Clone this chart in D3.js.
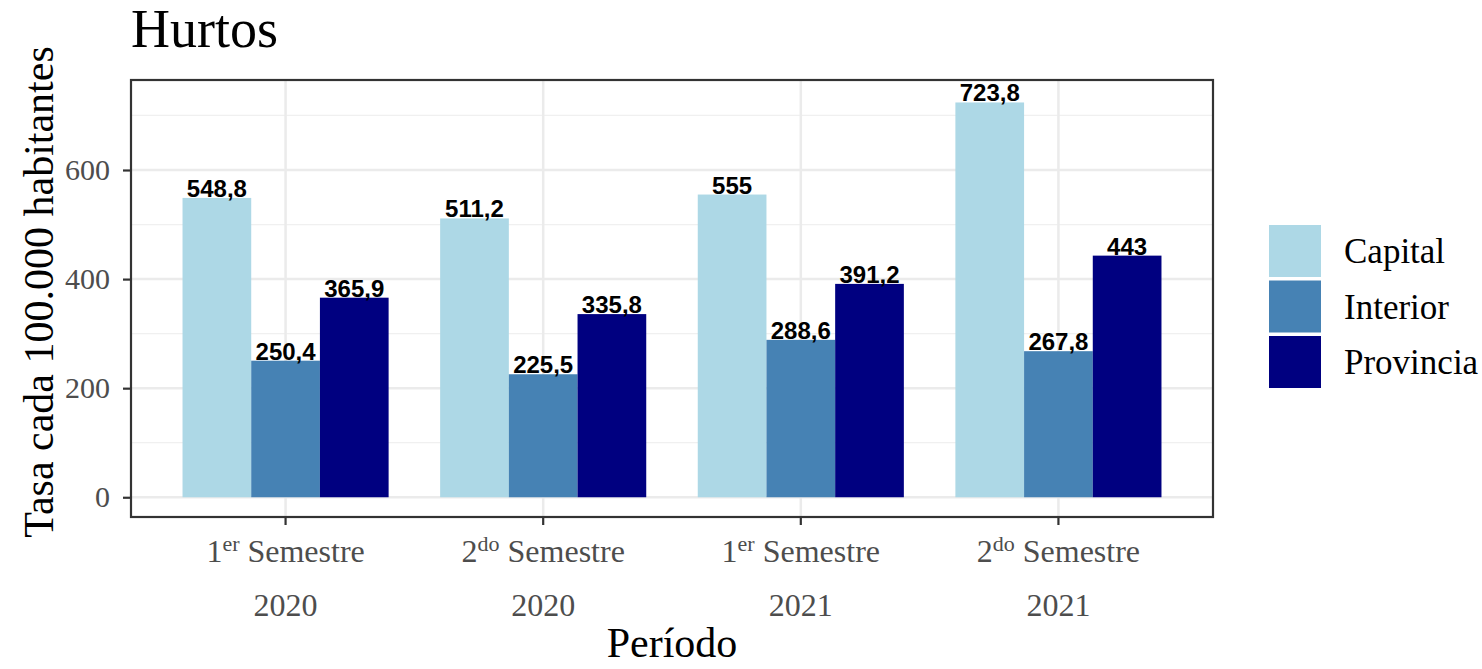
<!DOCTYPE html>
<html lang="es">
<head>
<meta charset="UTF-8">
<title>Hurtos</title>
<script src="https://d3js.org/d3.v7.min.js"></script>
<style>
  body { margin: 0; background: #fff; }
  .serif { font-family: "Liberation Serif", "DejaVu Serif", serif; }
  .lbl { font-family: "Liberation Sans", Arial, sans-serif; font-weight: bold; }
</style>
</head>
<body>
<div id="chart"></div>
<script>
// data
var periods = ["1S2020", "2S2020", "1S2021", "2S2021"];
var periodNum = ["1", "2", "1", "2"];
var periodSup = ["er", "do", "er", "do"];
var periodYear = ["2020", "2020", "2021", "2021"];
var regions = ["Capital", "Interior", "Provincia"];
var capital = [548.8, 511.2, 555, 723.8];
var interior = [250.4, 225.5, 288.6, 267.8];
var provincia = [365.9, 335.8, 391.2, 443];
var yTicks = [0, 200, 400, 600];
var yMinor = [100, 300, 500, 700];

var series = { Capital: capital, Interior: interior, Provincia: provincia };
var colors = { Capital: "#add8e6", Interior: "#4682b4", Provincia: "#000080" };

var W = 1482, H = 669;
var panel = { left: 131, right: 1213, top: 80, bottom: 517 };

var svg = d3.select("#chart").append("svg")
    .attr("width", W)
    .attr("height", H);

var x = d3.scaleBand()
    .domain(periods)
    .range([panel.left, panel.right])
    .paddingInner(0)
    .paddingOuter(0.1);

var y = d3.scaleLinear()
    .domain([-36.2, 765])
    .range([panel.bottom, panel.top]);

// grid
var grid = svg.append("g");
grid.selectAll(".minor").data(yMinor).enter().append("line")
    .attr("x1", panel.left).attr("x2", panel.right)
    .attr("y1", d => y(d)).attr("y2", d => y(d))
    .attr("stroke", "#f0f0f0").attr("stroke-width", 1.2);
grid.selectAll(".major").data(yTicks).enter().append("line")
    .attr("x1", panel.left).attr("x2", panel.right)
    .attr("y1", d => y(d)).attr("y2", d => y(d))
    .attr("stroke", "#ebebeb").attr("stroke-width", 2.5);
grid.selectAll(".vmajor").data(periods).enter().append("line")
    .attr("x1", d => x(d) + x.bandwidth() / 2).attr("x2", d => x(d) + x.bandwidth() / 2)
    .attr("y1", panel.top).attr("y2", panel.bottom)
    .attr("stroke", "#ebebeb").attr("stroke-width", 2.5);

// bars (dodged, total width 0.8 of the band)
var inner = d3.scaleBand()
    .domain(regions)
    .range([x.bandwidth() * 0.1, x.bandwidth() * 0.9]);

var groups = svg.append("g").selectAll("g").data(periods).enter().append("g")
    .attr("transform", d => "translate(" + x(d) + ",0)");

regions.forEach(function(r) {
  groups.append("rect")
      .attr("x", inner(r))
      .attr("width", inner.bandwidth())
      .attr("y", (d, i) => y(series[r][i]))
      .attr("height", (d, i) => y(0) - y(series[r][i]))
      .attr("fill", colors[r]);
});

regions.forEach(function(r) {
  groups.append("text")
      .attr("class", "lbl")
      .attr("x", inner(r) + inner.bandwidth() / 2)
      .attr("y", (d, i) => y(series[r][i]) - 1)
      .attr("text-anchor", "middle")
      .attr("font-size", 24)
      .attr("fill", "#000")
      .text((d, i) => String(series[r][i]).replace(".", ","));
});

// panel border
svg.append("rect")
    .attr("x", panel.left).attr("y", panel.top)
    .attr("width", panel.right - panel.left).attr("height", panel.bottom - panel.top)
    .attr("fill", "none").attr("stroke", "#333").attr("stroke-width", 2.2);

// y axis
var yAxis = svg.append("g")
    .attr("transform", "translate(" + panel.left + ",0)")
    .call(d3.axisLeft(y).tickValues(yTicks).tickSize(8).tickPadding(13).tickFormat(d3.format("d")));
yAxis.select(".domain").remove();
yAxis.selectAll(".tick line").attr("stroke", "#333").attr("stroke-width", 2.2);
yAxis.selectAll(".tick text")
    .attr("class", "serif")
    .attr("font-size", 30)
    .attr("fill", "#4d4d4d");

// x axis
var xAxis = svg.append("g")
    .attr("transform", "translate(0," + panel.bottom + ")")
    .call(d3.axisBottom(x).tickSize(8).tickFormat(""));
xAxis.select(".domain").remove();
xAxis.selectAll(".tick line").attr("stroke", "#333").attr("stroke-width", 2.2);

var xl = svg.append("g").selectAll("text").data(periods).enter().append("text")
    .attr("class", "serif")
    .attr("text-anchor", "middle")
    .attr("font-size", 32)
    .attr("fill", "#4d4d4d")
    .attr("x", d => x(d) + x.bandwidth() / 2)
    .attr("y", 562);
xl.append("tspan").text((d, i) => periodNum[i]);
xl.append("tspan").attr("dy", -11).attr("font-size", 22).text((d, i) => periodSup[i]);
xl.append("tspan").attr("dy", 11).text(" Semestre");

svg.append("g").selectAll("text").data(periods).enter().append("text")
    .attr("class", "serif")
    .attr("text-anchor", "middle")
    .attr("font-size", 32)
    .attr("fill", "#4d4d4d")
    .attr("x", d => x(d) + x.bandwidth() / 2)
    .attr("y", 616)
    .text((d, i) => periodYear[i]);

// titles
svg.append("text")
    .attr("class", "serif")
    .attr("x", (panel.left + panel.right) / 2)
    .attr("y", 657)
    .attr("text-anchor", "middle")
    .attr("font-size", 42)
    .attr("fill", "#000")
    .text("Período");

svg.append("text")
    .attr("class", "serif")
    .attr("transform", "translate(53,292) rotate(-90)")
    .attr("text-anchor", "middle")
    .attr("font-size", 42)
    .attr("fill", "#000")
    .text("Tasa cada 100.000 habitantes");

svg.append("text")
    .attr("class", "serif")
    .attr("x", panel.left)
    .attr("y", 47)
    .attr("font-size", 54)
    .attr("fill", "#000")
    .text("Hurtos");

// legend
var legend = svg.append("g").attr("transform", "translate(1269,225)");
var key = legend.selectAll("g").data(regions).enter().append("g")
    .attr("transform", (d, i) => "translate(0," + (i * 55.5) + ")");
key.append("rect")
    .attr("width", 52).attr("height", 52)
    .attr("fill", d => colors[d]);
key.append("text")
    .attr("class", "serif")
    .attr("x", 75)
    .attr("y", 26)
    .attr("dy", "0.35em")
    .attr("font-size", 35)
    .attr("fill", "#000")
    .text(d => d);
</script>
</body>
</html>
